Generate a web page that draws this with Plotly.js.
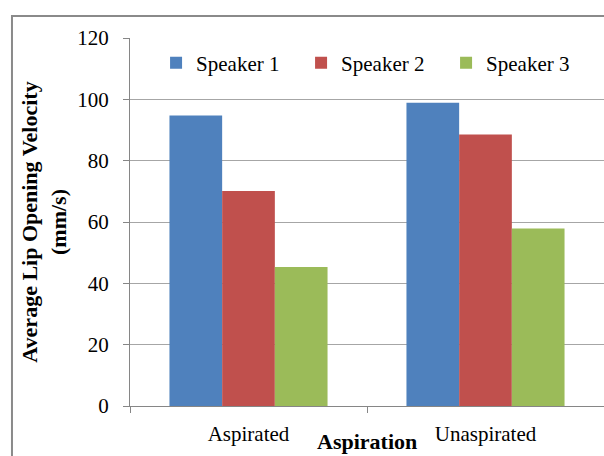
<!DOCTYPE html>
<html>
<head>
<meta charset="utf-8">
<script src="https://cdn.plot.ly/plotly-3.0.1.min.js"></script>
<style>html,body{margin:0;padding:0;background:#fff;}#chart{width:604px;height:456px;}</style>
</head>
<body>
<div id="chart"></div>
<script>
const categories = ["Aspirated", "Unaspirated"];
const seriesNames = ["Speaker 1", "Speaker 2", "Speaker 3"];
const speaker1 = [94.7, 98.9];
const speaker2 = [70.1, 88.5];
const speaker3 = [45.3, 57.9];
const colors = ["#4F81BD", "#C0504D", "#9BBB59"];
const yTicks = [0, 20, 40, 60, 80, 100, 120];

const values = [speaker1, speaker2, speaker3];
const font = "'Liberation Serif', 'Times New Roman', serif";
const traces = values.map((v, i) => ({
  type: "bar",
  name: seriesNames[i],
  x: categories,
  y: v,
  marker: {color: colors[i], line: {width: 0}},
  hoverinfo: "skip"
}));

const layout = {
  width: 604, height: 456,
  margin: {l: 130, r: 0, t: 38, b: 50},
  paper_bgcolor: "#fff", plot_bgcolor: "#fff",
  barmode: "group", bargap: 0.333, bargroupgap: 0,
  font: {family: font, size: 21, color: "#000"},
  showlegend: true,
  legend: {
    orientation: "h", x: 0.055, xanchor: "left", y: 0.932, yanchor: "middle",
    font: {family: font, size: 21, color: "#000"},
    entrywidth: 100, entrywidthmode: "pixels", bgcolor: "rgba(0,0,0,0)"
  },
  xaxis: {
    type: "category", showgrid: false, showline: true, linecolor: "#868686", linewidth: 1,
    ticks: "outside", tickson: "boundaries", ticklen: 6, tickcolor: "#868686",
    ticklabelstandoff: 9,
    tickfont: {family: font, size: 21, color: "#000"}, automargin: false
  },
  yaxis: {
    range: [0, 120], tickvals: yTicks, ticktext: yTicks.map(String),
    showgrid: true, gridcolor: "#a6a6a6", gridwidth: 1,
    showline: true, linecolor: "#868686", linewidth: 1,
    ticks: "outside", ticklen: 6, tickcolor: "#868686", zeroline: false,
    ticklabelstandoff: 10,
    tickfont: {family: font, size: 21, color: "#000"}, automargin: false,
    title: {text: "<b>Average Lip Opening Velocity</b><br><b>(mm/s)</b>", font: {family: font, size: 22, color: "#000"}, standoff: 4}
  },
  annotations: [{
    text: "<b>Aspiration</b>", xref: "paper", yref: "paper", x: 0.5, y: -0.097,
    xanchor: "center", yanchor: "middle", showarrow: false,
    font: {family: font, size: 22, color: "#000"}
  }],
  shapes: [{
    type: "rect", xref: "paper", yref: "paper", x0: -0.249, x1: 1.3, y0: -0.5, y1: 1.06,
    line: {color: "#8a8a8a", width: 2}, fillcolor: "rgba(0,0,0,0)", layer: "below"
  }]
};

Plotly.newPlot("chart", traces, layout, {staticPlot: true, displayModeBar: false});
</script>
</body>
</html>
